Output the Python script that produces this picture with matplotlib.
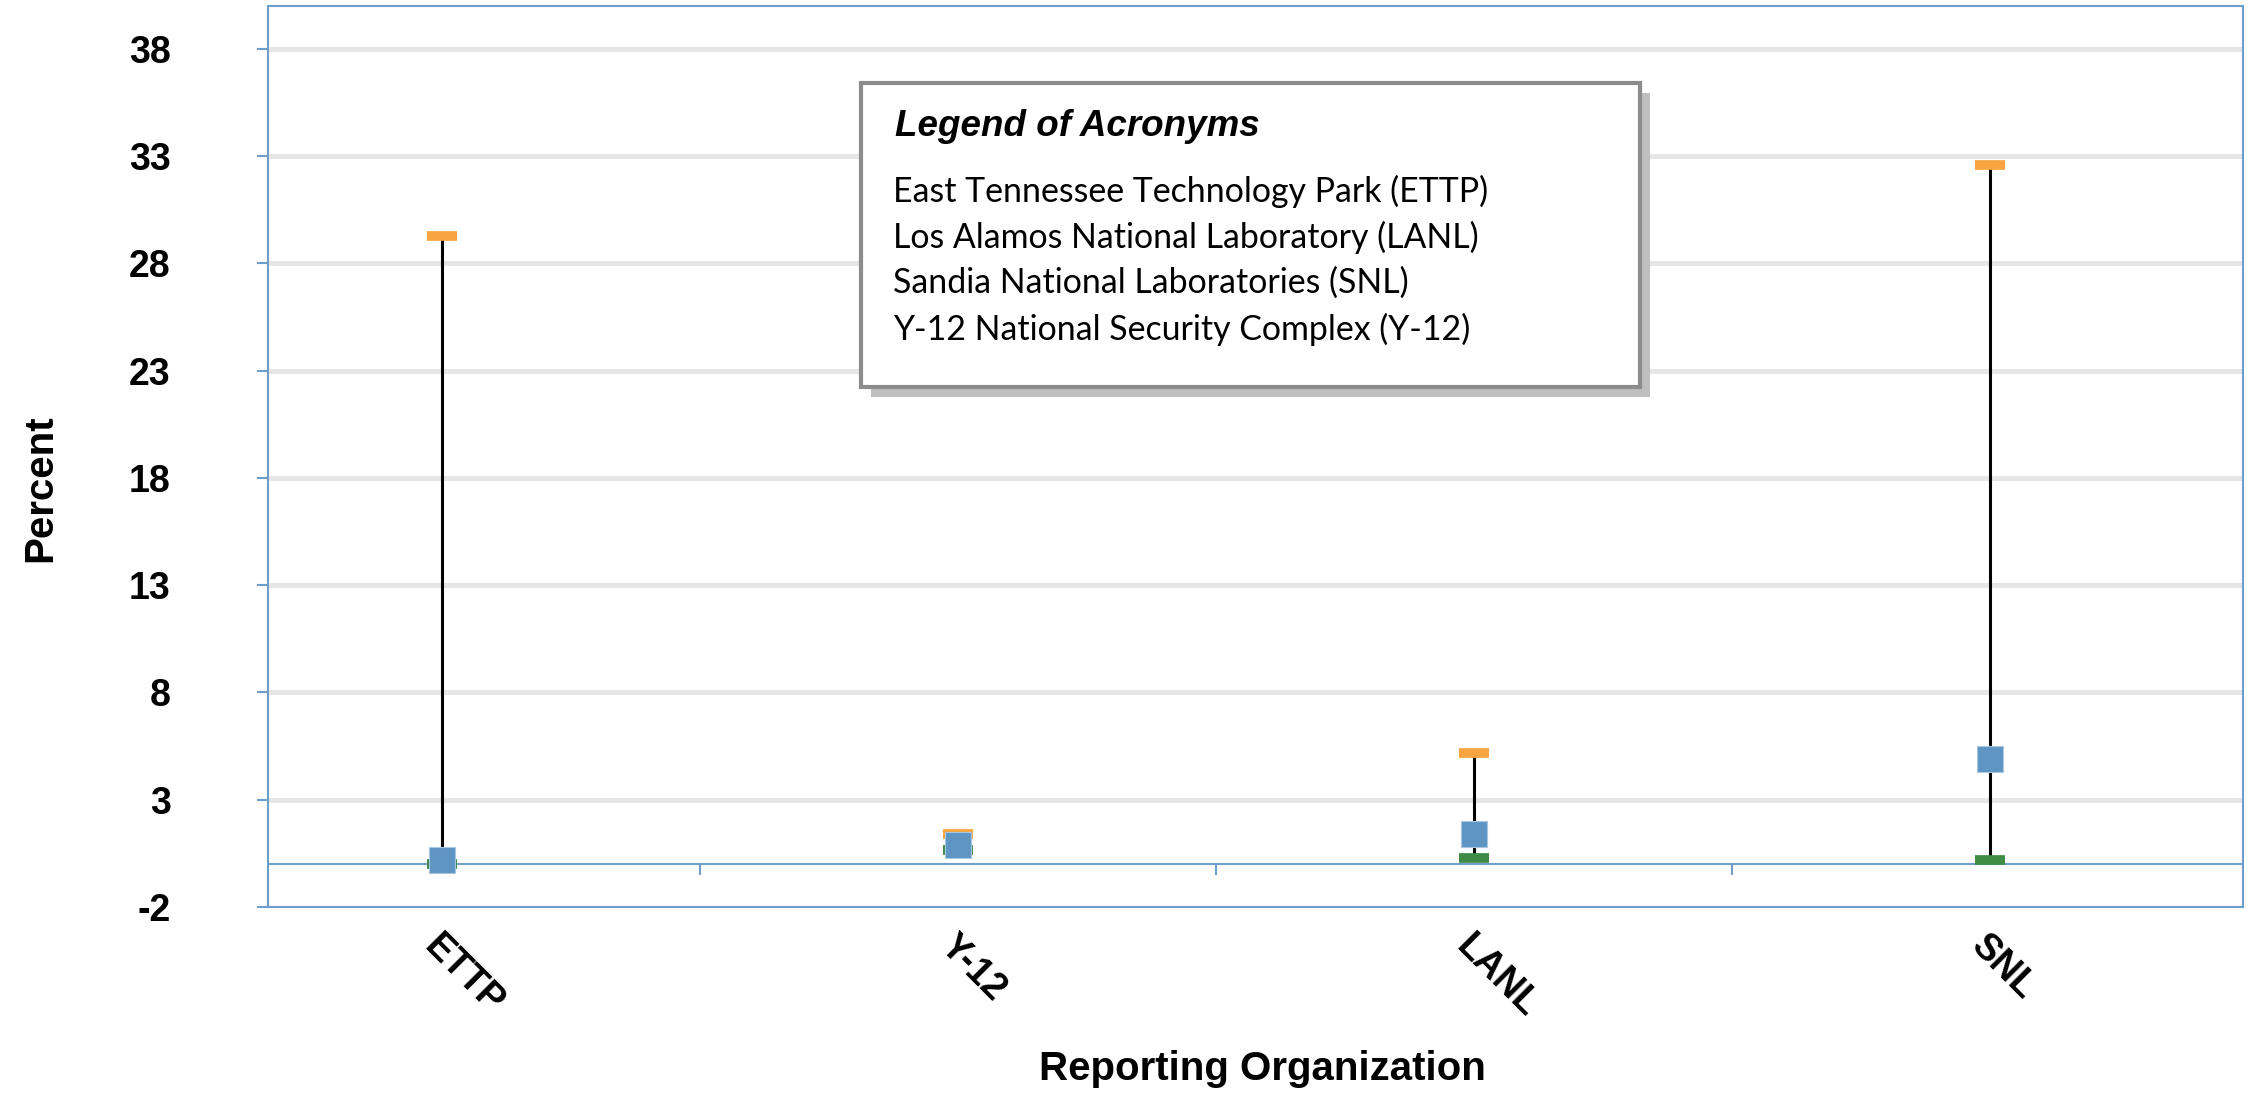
import matplotlib
matplotlib.use('Agg')
import matplotlib.pyplot as plt
from matplotlib.patches import Rectangle

# values (percent)
orgs = ['ETTP', 'Y-12', 'LANL', 'SNL']
max_pct = [29.3, 1.4, 5.2, 32.6]
mean_pct = [0.2, 0.9, 1.4, 4.9]
min_pct = [0.0, 0.65, 0.3, 0.2]
y_ticks = [-2, 3, 8, 13, 18, 23, 28, 33, 38]

legend_title = 'Legend of Acronyms'
legend_lines = ['East Tennessee Technology Park (ETTP)',
                'Los Alamos National Laboratory (LANL)',
                'Sandia National Laboratories (SNL)',
                'Y-12 National Security Complex (Y-12)']

axis_blue = '#6E9FCB'
grid_gray = '#E6E6E6'
font = 'Liberation Sans'

fig = plt.figure(figsize=(22.5, 11.07), dpi=100)
ax = fig.add_axes([0.1191, 0.1807, 0.8778, 0.8139])

x = list(range(1, len(orgs) + 1))

# gridlines
for t in y_ticks[1:]:
    ax.axhline(t, color=grid_gray, lw=3.5, zorder=0)

# high-low lines with max / min dashes and mean squares
ax.vlines(x, min_pct, max_pct, color='black', lw=2.2, zorder=2)
ax.plot(x, max_pct, ls='none', marker='_', ms=22, mew=7, color='#F9A440', zorder=3)
ax.plot(x, min_pct, ls='none', marker='_', ms=22, mew=7, color='#3F8C46', zorder=3)
ax.plot(x, mean_pct, ls='none', marker='s', ms=19, color='#5F95C2',
        mec='#A9C7E0', mew=0.8, zorder=4)

# zero line with category separators
ax.axhline(0, color=axis_blue, lw=1.5, zorder=1)
ax.vlines([1.5, 2.5, 3.5], -0.5, 0, color=axis_blue, lw=1.5, zorder=1)

ax.set_xlim(0.663, 4.49)
ax.set_ylim(-2, 40)
ax.set_yticks(y_ticks)
ax.set_yticklabels([str(t) for t in y_ticks], fontsize=27, fontweight='bold', family=font)
ax.tick_params(axis='y', length=8, width=1.5, color=axis_blue, pad=62)

ax.set_xticks(x)
ax.set_xticklabels(orgs, fontsize=27, fontweight='bold', family=font,
                   rotation=-45, ha='left', va='top', rotation_mode='anchor')
ax.tick_params(axis='x', length=0, pad=15)

for s in ax.spines.values():
    s.set_color(axis_blue)
    s.set_linewidth(1.5)

fig.text(40 / 2250, 0.559, 'Percent', fontsize=29, fontweight='bold', family=font,
         rotation=90, ha='center', va='center')
fig.text(0.561, 0.034, 'Reporting Organization', fontsize=29, fontweight='bold',
         family=font, ha='center', va='center')

# acronym legend box
bx, by, bw, bh = 861 / 2250, 1 - 387 / 1107, 779 / 2250, 304 / 1107
fig.patches.append(Rectangle((bx + 0.0045, by - 0.009), bw, bh, transform=fig.transFigure,
                             facecolor='#BFBFBF', edgecolor='none', zorder=5))
fig.patches.append(Rectangle((bx, by), bw, bh, transform=fig.transFigure,
                             facecolor='white', edgecolor='#8C8C8C', lw=3, zorder=6))
fig.text(895 / 2250, 1 - 126 / 1107, legend_title, fontsize=26.5, fontweight='bold',
         style='italic', family=font, va='center', zorder=7)
for i, line in enumerate(legend_lines):
    fig.text(893 / 2250, 1 - (191 + i * 46) / 1107, line, fontsize=24.4,
             family='Lato', va='center', zorder=7)

fig.savefig('out.png', dpi=100)
